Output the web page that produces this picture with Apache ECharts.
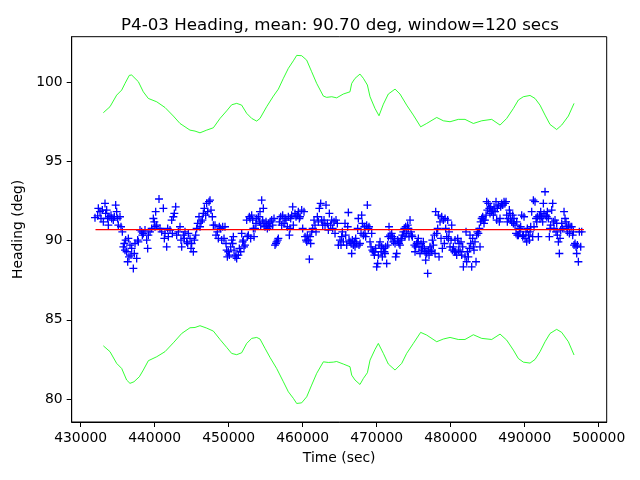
<!DOCTYPE html>
<html>
<head>
<meta charset="utf-8">
<script src="https://cdn.jsdelivr.net/npm/echarts@6/dist/echarts.min.js"></script>
<style>html,body{margin:0;padding:0;background:#fff;}#c{width:640px;height:480px;}</style>
</head>
<body>
<div id="c"></div>
<script>
const titleText = 'P4-03 Heading, mean: 90.70 deg, window=120 secs';
const xTicks = [430000, 440000, 450000, 460000, 470000, 480000, 490000, 500000];
const yTicks = [80, 85, 90, 95, 100];
const meanValue = 90.70;
const meanStart = 432000;
const meanEnd = 498000;

const headingPoints = [
[431933,91.45],[432293,91.57],[432383,92.04],[432608,91.83],[432743,91.40],[432924,91.93],[433059,91.19],[433284,92.35],[433374,91.72],[433509,91.93],
[433644,91.40],[433735,90.98],[433825,91.51],[434095,91.61],[434185,91.40],[434410,91.30],[434545,91.51],[434726,92.25],[434861,91.83],[434996,91.40],
[435086,90.98],[435311,91.51],[435446,90.88],[435627,90.56],[435762,89.61],[435897,89.82],[435987,89.40],[436077,90.04],[436212,89.30],[436347,88.67],
[436438,90.14],[436528,88.98],[436663,89.72],[436798,89.09],[436888,89.51],[437113,88.25],[437248,89.19],[437339,89.82],[437564,88.88],[437699,90.04],
[437789,89.93],[438014,90.67],[438240,90.56],[438330,90.35],[438465,90.46],[438690,90.67],[438915,90.04],[439050,89.51],[439141,90.35],[439366,90.56],
[439591,90.77],[439816,91.40],[439951,91.19],[440042,90.88],[440132,91.83],[440267,90.98],[440582,92.63],[440717,90.77],[440943,90.56],[441168,92.04],
[441303,90.14],[441393,90.46],[441618,89.61],[441753,90.77],[441844,90.25],[442069,90.67],[442294,91.30],[442384,90.46],[442519,91.51],[442654,91.72],
[442835,92.14],[442970,90.35],[443195,90.56],[443420,90.88],[443555,90.04],[443646,89.61],[443871,90.35],[444006,90.14],[444096,90.56],[444321,89.93],
[444456,89.82],[444547,90.46],[444772,90.14],[444907,89.51],[444997,89.82],[445222,89.30],[445357,90.04],[445538,90.35],[445673,90.77],[445808,91.09],
[445988,91.51],[446123,90.88],[446258,91.19],[446439,91.30],[446574,91.72],[446709,92.04],[446889,91.61],[447024,92.35],[447159,91.83],[447340,92.46],
[447475,92.56],[447610,91.93],[447790,91.51],[447925,90.98],
[448150,90.98],[448285,90.35],[448465,90.56],[448600,90.14],[448735,90.88],[448916,90.77],[449051,90.04],[449186,90.88],[449366,90.14],[449501,90.88],
[449636,89.82],[449727,89.40],[449817,88.98],[449952,89.30],[450087,89.09],[450267,89.61],[450402,90.04],[450537,89.82],[450628,90.25],[450718,89.40],
[450853,88.98],[450988,89.09],[451078,88.88],[451303,89.09],[451438,89.51],[451619,89.30],[451754,90.46],[451889,89.93],[451979,90.04],[452069,89.61],
[452204,89.72],[452430,91.30],[452520,90.25],[452655,90.35],[452790,91.51],[452880,91.40],[452970,90.14],[453105,91.61],[453240,91.30],[453331,90.77],
[453421,90.25],[453556,90.77],[453691,91.09],[453781,91.40],[454006,91.51],[454141,91.19],[454232,91.83],[454322,90.98],[454457,92.56],[454592,91.30],
[454682,92.04],[454772,91.09],[454907,90.88],[455042,91.19],[455133,90.98],[455223,90.77],[455358,91.09],[455493,90.88],[455583,91.19],[455808,91.30],
[455943,90.98],[456124,91.40],[456259,89.72],[456394,89.82],[456484,89.93],[456619,90.04],[456709,90.14],[456844,91.19],[457025,91.51],[457160,90.98],
[457295,91.61],[457475,91.09],[457610,91.40],[457745,91.30],[457926,90.88],[458061,91.51],[458196,90.35],[458286,90.77],[458376,91.40],[458511,91.61],
[458646,92.14],[458737,90.98],[458962,91.72],[459097,91.51],[459277,91.61],[459412,91.83],[459547,91.40],[459638,91.51],[459863,91.93],[459998,90.77],
[460178,91.83],[460313,90.25],[460448,90.04],[460539,89.93],[460629,90.35],[460764,90.04],[460899,88.83],[460989,90.25],[461079,89.82],[461214,90.56],
[461349,90.77],[461530,91.30],[461665,90.98],[461800,90.56],[461980,91.51],[462115,91.19],[462250,92.04],[462431,92.35],[462566,91.30],[462701,90.98],
[462881,91.30],[463016,90.98],[463151,92.25],[463332,91.09],[463467,90.67],[463602,91.72],[463782,90.98],[463917,91.30],[464052,90.77],[464233,91.19],
[464368,90.46],[464503,91.30],[464683,91.09],[464818,89.72],
[465043,90.04],[465178,89.72],[465268,90.25],[465358,90.56],[465493,89.93],[465719,91.09],[465809,90.35],[465944,89.72],[466079,90.88],[466169,91.78],
[466259,90.04],[466394,89.93],[466529,89.82],[466620,89.19],[466710,90.04],[466845,89.72],[466980,89.93],[467070,89.61],[467160,90.14],[467295,89.82],
[467430,90.77],[467521,91.40],[467611,89.72],[467746,89.82],[467881,90.46],[467971,91.61],[468061,91.09],[468196,90.35],[468331,90.88],[468422,90.46],
[468512,90.25],[468647,90.98],[468737,92.25],[468872,90.77],[468962,90.88],[469097,89.93],[469232,89.61],[469323,90.46],[469413,89.40],[469548,89.30],
[469683,89.09],[469773,89.30],[469863,89.51],[469998,88.35],[470133,88.56],[470224,89.09],[470314,89.72],[470449,89.93],[470584,89.30],[470674,89.61],
[470764,88.98],[470899,89.51],[471034,89.30],[471125,89.19],[471215,89.61],[471350,88.56],[471485,89.72],[471575,90.25],[471665,90.88],[471800,90.35],
[471935,90.14],[472026,90.46],[472116,90.25],[472251,89.93],[472386,90.14],[472476,89.82],[472566,88.98],[472701,89.19],[472836,90.04],[472927,89.93],
[473017,89.82],[473152,89.72],[473287,90.04],[473377,90.14],[473467,90.35],[473602,90.56],[473737,90.77],[473828,90.25],[473918,90.88],[474053,90.46],
[474188,90.98],[474278,90.77],[474368,90.25],[474503,91.30],[474638,90.56],[474729,90.35],[474819,90.25],[475089,89.72],[475179,89.30],[475269,89.61],
[475404,89.82],[475539,89.93],[475630,90.14],[475720,89.61],[475855,89.19],[475990,89.82],[476080,89.40],[476170,89.61],[476305,89.93],[476440,89.51],
[476531,89.30],[476621,88.77],[476756,89.19],[476891,87.93],[476981,89.40],[477071,89.09],[477206,89.61],[477341,89.30],[477432,89.40],[477522,90.04],
[477657,89.72],[477792,90.35],[477882,89.19],[477972,91.83],[478107,90.46],[478242,90.77],[478333,91.61],[478423,88.98],[478558,91.19],[478693,90.14],
[478783,91.51],[478873,89.51],[479008,91.30],[479143,89.82],[479234,91.40],[479324,90.77],[479459,90.25],[479594,91.30],[479684,90.14],[479774,90.56],
[479909,89.61],[480044,90.04],[480135,90.98],[480225,89.40],[480360,89.61],[480495,89.30],[480585,90.04],[480675,89.30],[480810,89.09],[480945,90.14],
[481036,89.40],[481126,89.82],[481261,89.30],[481396,89.93],[481486,89.09],[481621,89.61],[481711,88.35],
[481935,88.98],[482070,90.56],[482160,88.67],[482250,89.30],[482385,88.98],[482520,89.51],[482611,90.35],[482701,89.82],[482836,88.35],[482971,90.14],
[483061,89.61],[483151,89.40],[483286,89.93],[483421,88.67],[483512,90.35],[483602,90.56],[483737,90.46],[483872,90.77],[483962,89.61],[484052,91.19],
[484187,91.40],[484322,91.51],[484413,91.30],[484503,91.09],[484638,91.30],[484773,91.61],[484863,92.46],[484953,91.93],[485088,92.35],[485223,92.04],
[485314,91.72],[485404,92.14],[485539,91.83],[485674,91.93],[485764,91.61],[485854,92.14],[485989,91.83],[486124,92.46],[486215,91.30],[486305,92.04],
[486440,92.25],[486575,91.19],[486665,91.40],[486755,92.14],[486890,92.35],[487025,92.25],[487206,92.46],[487341,92.35],[487476,92.46],[487566,91.61],
[487656,91.19],[487791,91.40],[487926,91.93],[488017,91.72],[488107,91.30],[488242,91.19],[488377,91.61],[488467,91.09],[488557,91.40],[488692,90.98],
[488827,90.46],[488918,91.19],[489008,90.35],[489143,90.35],[489278,90.77],[489368,90.56],[489458,90.88],[489593,91.61],[489728,90.25],[489819,90.35],
[489909,91.51],[490044,90.14],[490179,90.56],[490269,89.93],[490359,90.77],[490494,90.35],[490629,90.04],[490720,90.56],[490810,90.88],[490945,91.83],
[491080,90.25],[491170,92.56],[491260,90.88],[491395,92.46],[491530,91.40],[491621,91.19],[491711,91.51],[491846,90.25],[491981,91.61],[492071,91.40],
[492161,91.83],[492296,91.51],[492431,91.19],[492522,92.35],[492612,91.72],[492747,93.09],[492882,91.61],[492972,91.51],[493062,91.83],[493197,91.40],
[493332,90.25],[493423,90.77],[493513,90.98],[493648,91.93],[493783,92.35],[493873,91.19],[493963,90.77],[494098,91.30],[494233,90.56],[494324,91.09],
[494414,90.35],[494549,89.93],[494684,89.19],[494774,90.14],[494864,90.67],[494999,91.09],[495134,90.77],[495315,91.83],[495450,91.40],[495585,91.19],
[495675,90.88],[495765,90.56],[495900,90.98],[496035,90.46],[496126,90.88],[496351,90.88],[496486,90.35],[496576,90.56],[496666,89.72],[496801,89.82],
[496936,89.61],[497027,89.19],[497117,89.72],[497252,88.67],[497387,90.56],[497567,89.61],[497702,90.56]
];

const upperBand = [
[433060,98.08],[433960,98.46],[434860,99.19],[435540,99.51],[435990,99.93],[436570,100.44],[436890,100.46],[437790,100.04],[438460,99.40],[439140,98.98],
[440270,98.77],[441390,98.41],[442520,97.87],[443420,97.40],[444770,96.98],[445450,96.92],[446120,96.81],[447020,96.98],[447930,97.13],[448830,97.72],
[449730,98.20],[450400,98.58],[451080,98.67],[451750,98.56],[452430,98.04],[453110,97.72],[453780,97.55],[454230,97.72],[455130,98.46],[456040,99.13],
[456710,99.57],[457390,100.25],[458060,100.88],[458740,101.36],[459190,101.70],[459860,101.68],[460540,101.40],[461210,100.67],[461890,99.93],[462790,99.13],
[463240,99.05],[463920,99.09],[464590,99.02],[465490,99.26],[466390,99.40],[466620,99.93],[467070,100.25],[467740,100.52],[468200,100.25],[468740,99.83],
[469100,99.09],[469770,98.35],[470310,97.89],[470900,98.62],[471570,99.26],[472480,99.57],[473150,99.26],[474050,98.56],[474950,97.93],[475940,97.19],
[476750,97.40],[478110,97.78],[479010,97.57],[479910,97.51],[481030,97.66],[481930,97.66],[483060,97.40],[484190,97.57],[485540,97.66],[486670,97.30],
[487570,97.72],[488470,98.35],[489140,98.88],[489820,99.09],[490720,99.17],[491400,98.98],[492070,98.56],[492750,97.93],[493420,97.34],[494320,97.02],
[495000,97.30],[495900,97.87],[496670,98.67]
];

const lowerBand = [
[433060,83.36],[433960,82.99],[434860,82.25],[435540,81.93],[436210,81.20],[436660,80.99],[437200,81.09],[437930,81.41],[438460,81.83],[439140,82.42],
[440270,82.67],[441390,82.99],[442520,83.55],[443650,84.14],[444770,84.50],[445450,84.52],[446120,84.63],[447020,84.48],[447930,84.29],[448830,83.76],
[449730,83.26],[450400,82.88],[451080,82.80],[451750,82.92],[452430,83.51],[453110,83.83],[453780,83.89],[454230,83.79],[454910,83.20],[455580,82.63],
[456480,81.93],[457390,81.09],[458060,80.46],[458740,80.04],[459190,79.72],[459860,79.76],[460540,80.14],[461210,80.88],[461890,81.62],[462790,82.35],
[463470,82.31],[464140,82.33],[464590,82.37],[465490,82.21],[466390,82.04],[466620,81.51],[467070,81.20],[467740,80.92],[468200,81.30],[468740,81.66],
[469100,82.46],[469770,83.13],[470220,83.51],[470900,82.88],[471570,82.21],[472480,81.83],[473380,82.25],[474050,82.88],[474950,83.51],[475940,84.21],
[476750,84.04],[478110,83.62],[479010,83.79],[479910,83.89],[481030,83.76],[481930,83.76],[483060,84.06],[484190,83.83],[485540,83.76],[486670,84.10],
[487570,83.72],[488470,83.09],[489140,82.56],[489820,82.33],[490720,82.27],[491400,82.50],[492070,82.99],[492750,83.62],[493420,84.14],[494320,84.40],
[495000,84.21],[495900,83.62],[496670,82.78]
];

const font = 'DejaVu Sans';
const chart = echarts.init(document.getElementById('c'), null, {renderer: 'canvas'});
chart.setOption({
  animation: false,
  backgroundColor: '#ffffff',
  title: {
    text: titleText,
    left: 335, top: 12, textAlign: 'center',
    textStyle: {fontFamily: font, fontSize: 16.7, fontWeight: 'normal', color: '#000'}
  },
  grid: {left: 71.7, right: 33.3, top: 36.7, bottom: 58, show: true, borderColor: '#000', borderWidth: 1, backgroundColor: 'transparent'},
  xAxis: {
    type: 'value', min: 428784, max: 501081,
    name: 'Time (sec)', nameLocation: 'middle', nameGap: 29,
    nameTextStyle: {fontFamily: font, fontSize: 13.9, color: '#000'},
    axisLine: {show: true, onZero: false, lineStyle: {color: '#000', width: 1}},
    axisTick: {show: true, inside: false, length: 5, customValues: xTicks, lineStyle: {color: '#000', width: 1}},
    axisLabel: {show: true, margin: 9, customValues: xTicks, fontFamily: font, fontSize: 13.9, color: '#000', formatter: v => String(v)},
    splitLine: {show: false}
  },
  yAxis: {
    type: 'value', min: 78.55, max: 102.88,
    name: 'Heading (deg)', nameLocation: 'middle', nameGap: 43, nameRotate: 90,
    nameTextStyle: {fontFamily: font, fontSize: 13.9, color: '#000'},
    axisLine: {show: true, onZero: false, lineStyle: {color: '#000', width: 1}},
    axisTick: {show: true, inside: false, length: 5, customValues: yTicks, lineStyle: {color: '#000', width: 1}},
    axisLabel: {show: true, margin: 9, customValues: yTicks, fontFamily: font, fontSize: 13.9, color: '#000', formatter: v => String(v)},
    splitLine: {show: false}
  },
  series: [
    {
      type: 'line', data: upperBand, showSymbol: false, symbol: 'none', smooth: false,
      lineStyle: {color: '#00ff00', width: 0.8}, z: 2
    },
    {
      type: 'line', data: lowerBand, showSymbol: false, symbol: 'none', smooth: false,
      lineStyle: {color: '#00ff00', width: 0.8}, z: 2
    },
    {
      type: 'scatter', data: headingPoints,
      symbol: 'path://M0,5L10,5M5,0L5,10', symbolSize: 8,
      itemStyle: {color: 'none', borderColor: '#0000ff', borderWidth: 1.3, opacity: 1}, z: 3
    },
    {
      type: 'line', data: [[meanStart, meanValue], [meanEnd, meanValue]], showSymbol: false, symbol: 'none',
      lineStyle: {color: '#ff0000', width: 1.2, opacity: 1}, itemStyle: {color: '#ff0000'}, zlevel: 1, z: 10
    }
  ]
});
</script>
</body>
</html>
